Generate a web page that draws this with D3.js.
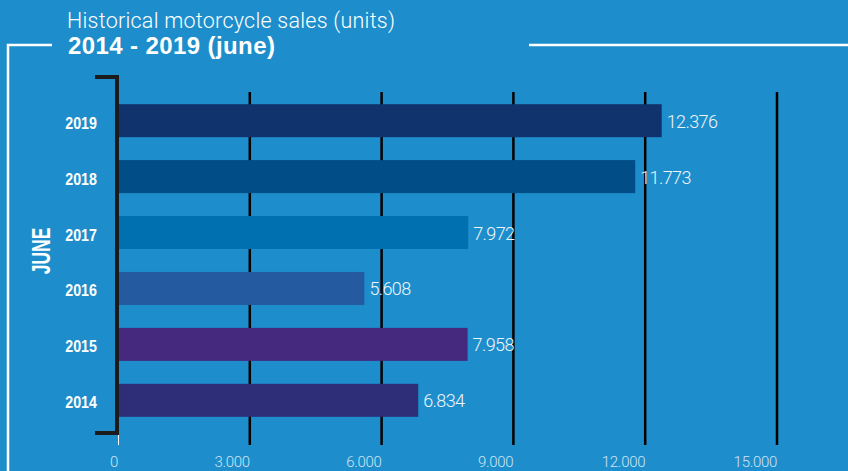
<!DOCTYPE html>
<html>
<head>
<meta charset="utf-8">
<script src="https://cdn.jsdelivr.net/npm/d3@7"></script>
<style>
  body { margin: 0; background: #1d8ecb; }
  svg { display: block; }
</style>
</head>
<body>
<div id="graph"></div>
<script>
var years = ["2019", "2018", "2017", "2016", "2015", "2014"];
var sales = [12376, 11773, 7972, 5608, 7958, 6834];
var barColors = ["#10336e", "#014d87", "#0070b0", "#245aa0", "#45297f", "#2e2e78"];
var tickValues = [0, 3000, 6000, 9000, 12000, 15000];
var tickLabels = ["0", "3.000", "6.000", "9.000", "12.000", "15.000"];

var data = years.map(function (y, i) {
  return { year: y, value: sales[i], color: barColors[i] };
});

var svg = d3.select("#graph")
    .append("svg")
    .attr("width", 848)
    .attr("height", 471);

svg.append("rect")
  .attr("width", 848).attr("height", 471)
  .attr("fill", "#1d8ecb");

var x = d3.scaleLinear().domain([0, 15000]).range([118, 777]);
var y = d3.scaleBand().domain(years).range([93, 428]).paddingInner(0.41).paddingOuter(0.2);

// frame lines
svg.append("path")
  .attr("d", "M8,471V45H52")
  .attr("fill", "none")
  .attr("stroke", "#fff")
  .attr("stroke-width", 2.5);
svg.append("line")
  .attr("x1", 529).attr("x2", 848)
  .attr("y1", 45).attr("y2", 45)
  .attr("stroke", "#fff")
  .attr("stroke-width", 2.5);

// titles
svg.append("text")
  .attr("x", 67).attr("y", 28)
  .attr("fill", "#fff")
  .style("font-family", "Roboto, 'Liberation Sans', sans-serif")
  .style("font-weight", 300)
  .style("font-size", "21.5px")
  .style("letter-spacing", "0.25px")
  .text("Historical motorcycle sales (units)");
svg.append("text")
  .attr("x", 68).attr("y", 54)
  .attr("fill", "#fff")
  .style("font-family", "'Liberation Sans', Arial, sans-serif")
  .style("font-weight", "bold")
  .style("font-size", "24px")
  .style("letter-spacing", "0.4px")
  .text("2014 - 2019 (june)");

// grid lines
svg.selectAll("line.grid")
  .data(tickValues.slice(1))
  .enter()
  .append("line")
  .attr("class", "grid")
  .attr("x1", function (d) { return x(d); })
  .attr("x2", function (d) { return x(d); })
  .attr("y1", 92).attr("y2", 445)
  .attr("stroke", "#000")
  .attr("stroke-width", 2.5);

// white zero line
svg.append("line")
  .attr("x1", x(0) + 0.5).attr("x2", x(0) + 0.5)
  .attr("y1", 92).attr("y2", 445)
  .attr("stroke", "#fff")
  .attr("stroke-width", 1);

// bars
svg.selectAll("rect.bar")
  .data(data)
  .enter()
  .append("rect")
  .attr("class", "bar")
  .attr("x", x(0))
  .attr("y", function (d) { return y(d.year); })
  .attr("width", function (d) { return x(d.value) - x(0); })
  .attr("height", y.bandwidth())
  .attr("fill", function (d) { return d.color; });

// value labels
svg.selectAll("text.val")
  .data(data)
  .enter()
  .append("text")
  .attr("class", "val")
  .attr("x", function (d) { return x(d.value) + 5; })
  .attr("y", function (d) { return y(d.year) + y.bandwidth() / 2 + 7; })
  .attr("fill", "#eef5fb")
  .style("font-family", "Roboto, 'Liberation Sans', sans-serif")
  .style("font-weight", 300)
  .style("font-size", "18px")
  .style("letter-spacing", "-0.6px")
  .text(function (d) { return d3.format(",")(d.value).replace(",", "."); });

// bracket
svg.append("path")
  .attr("d", "M95,77H117V433H95")
  .attr("fill", "none")
  .attr("stroke", "#1b1b1b")
  .attr("stroke-width", 4);

// year labels (condensed)
svg.selectAll("text.year")
  .data(data)
  .enter()
  .append("text")
  .attr("class", "year")
  .attr("transform", function (d) {
    return "translate(97," + (y(d.year) + y.bandwidth() / 2 + 8) + ") scale(0.84,1)";
  })
  .attr("text-anchor", "end")
  .attr("fill", "#fff")
  .style("font-family", "'Liberation Sans', Arial, sans-serif")
  .style("font-weight", "bold")
  .style("font-size", "17px")
  .text(function (d) { return d.year; });

// rotated label
svg.append("text")
  .attr("transform", "translate(50,251) rotate(-90) scale(0.7,1)")
  .attr("text-anchor", "middle")
  .attr("fill", "#fff")
  .style("font-family", "'Liberation Sans', Arial, sans-serif")
  .style("font-weight", "bold")
  .style("font-size", "25px")
  .text("JUNE");

// x tick labels
svg.selectAll("text.tick")
  .data(tickValues)
  .enter()
  .append("text")
  .attr("class", "tick")
  .attr("x", function (d) { return x(d); })
  .attr("y", 467)
  .attr("text-anchor", "end")
  .attr("fill", "#cfe4f4")
  .style("font-family", "Roboto, 'Liberation Sans', sans-serif")
  .style("font-weight", 300)
  .style("font-size", "15px")
  .style("letter-spacing", "-0.3px")
  .text(function (d, i) { return tickLabels[i]; });
</script>
</body>
</html>
